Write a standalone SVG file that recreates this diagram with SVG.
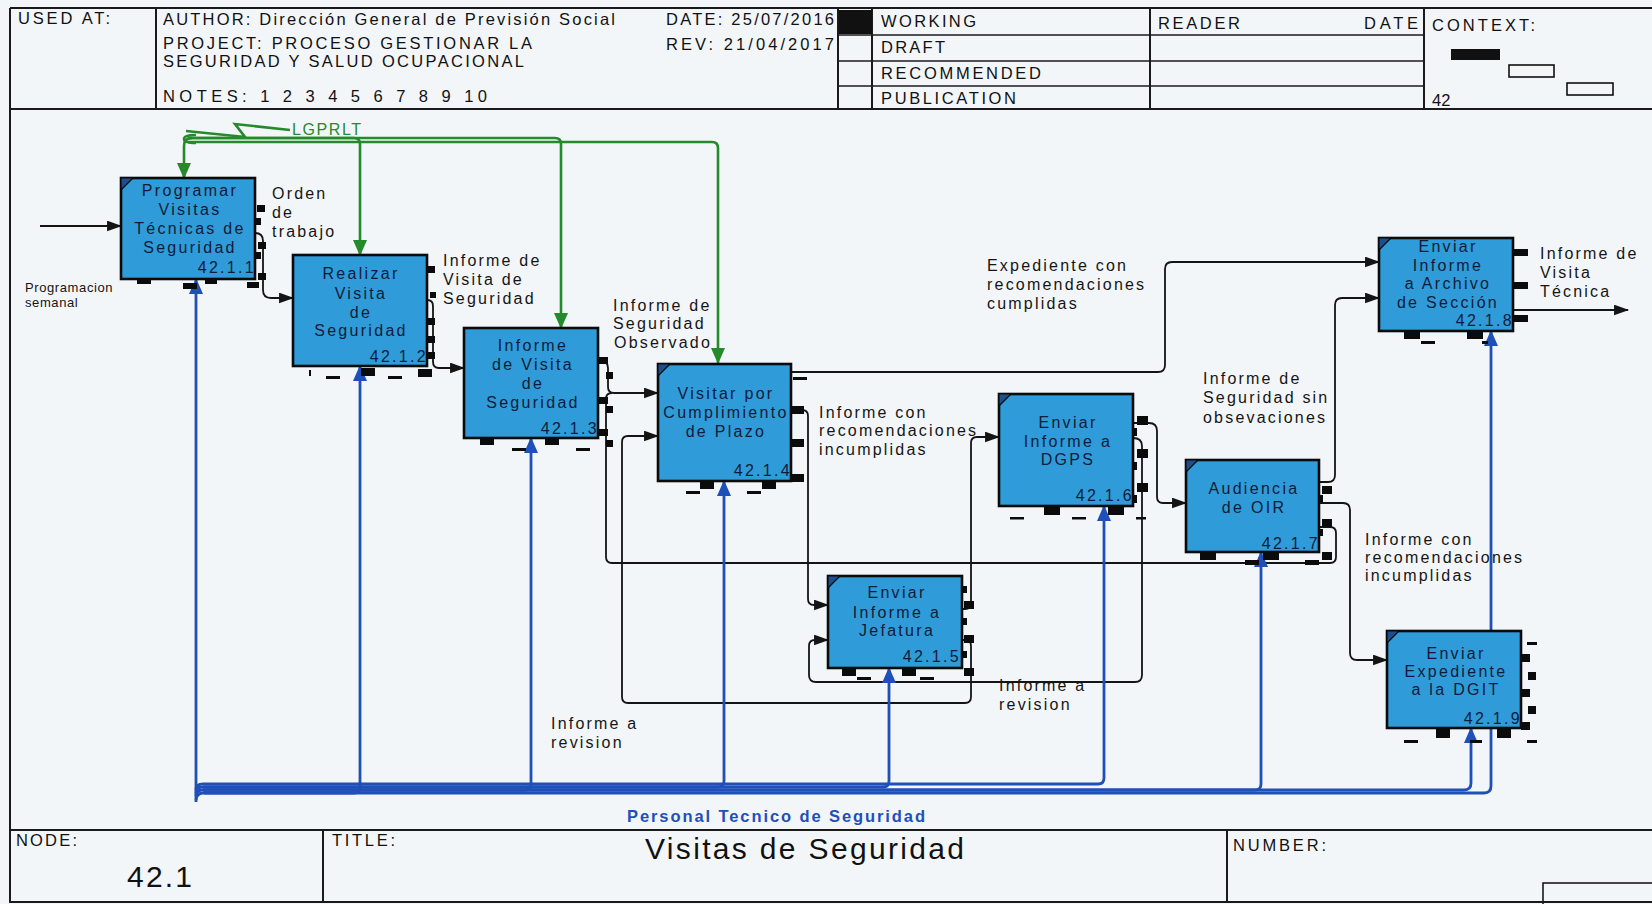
<svg xmlns="http://www.w3.org/2000/svg" width="1652" height="904" viewBox="0 0 1652 904">
  <defs>
    <style>
      .frame { fill: none; stroke: #1a1a1a; stroke-width: 2; }
      .thin { fill: none; stroke: #1a1a1a; stroke-width: 1.4; }
      .hdr { font-family: "Liberation Sans", Arial, sans-serif; font-size: 16.5px; fill: #111; }
      .box { fill: #2f9bd8; stroke: #0b0b0b; stroke-width: 2.6; }
      .corner { fill: #1c4f8c; stroke: #0b0b0b; stroke-width: 1.2; }
      .lbl { font-family: "Liberation Sans", Arial, sans-serif; font-size: 16px; letter-spacing: 2.3px; fill: #0f1b3a; text-anchor: middle; }
      .num { font-family: "Liberation Sans", Arial, sans-serif; font-size: 16px; letter-spacing: 2.3px; fill: #0f1b3a; text-anchor: end; }
      .stub { fill: #0b0b0b; }
      .txt { font-family: "Liberation Sans", Arial, sans-serif; font-size: 16px; letter-spacing: 2.2px; fill: #151515; }
      .small { font-family: "Liberation Sans", Arial, sans-serif; font-size: 13px; letter-spacing: 0.6px; fill: #151515; }
      .arrow { fill: none; stroke: #141414; stroke-width: 1.8; }
      .ctl { fill: none; stroke: #248a2c; stroke-width: 2.6; }
      .mech { fill: none; stroke: #1f4fb8; stroke-width: 2.8; }
    </style>
    <marker id="headK" viewBox="0 0 14 10" refX="13" refY="5" markerWidth="15" markerHeight="11" orient="auto" markerUnits="userSpaceOnUse">
      <path d="M0,0 L14,5 L0,10 Z" fill="#141414"/>
    </marker>
    <marker id="headG" viewBox="0 0 16 14" refX="15" refY="7" markerWidth="16" markerHeight="16" orient="auto" markerUnits="userSpaceOnUse">
      <path d="M0,0 L16,7 L0,14 Z" fill="#248a2c"/>
    </marker>
    <marker id="headB" viewBox="0 0 16 14" refX="15" refY="7" markerWidth="16" markerHeight="16" orient="auto" markerUnits="userSpaceOnUse">
      <path d="M0,0 L16,7 L0,14 Z" fill="#1f4fb8"/>
    </marker>
  </defs>

  <!-- sheet -->
  <rect x="0" y="0" width="1652" height="904" fill="#f3f6f9"/>

  <!-- header block -->
  <g id="header">
    <line class="frame" x1="10" y1="8" x2="1652" y2="8"/>
    <line class="frame" x1="10" y1="109" x2="1652" y2="109"/>
    <line class="frame" x1="10" y1="8" x2="10" y2="903"/>
    <line class="frame" x1="156" y1="8" x2="156" y2="109"/>
    <line class="frame" x1="838" y1="8" x2="838" y2="109"/>
    <line class="frame" x1="872" y1="8" x2="872" y2="109"/>
    <line class="frame" x1="1150" y1="8" x2="1150" y2="109"/>
    <line class="frame" x1="1424" y1="8" x2="1424" y2="109"/>
    <line class="thin" x1="838" y1="35" x2="1424" y2="35"/>
    <line class="thin" x1="838" y1="61" x2="1424" y2="61"/>
    <line class="thin" x1="838" y1="86" x2="1424" y2="86"/>
    <rect x="839" y="10" width="33" height="24" fill="#111"/>
    <text class="hdr" x="18" y="24" textLength="92" lengthAdjust="spacing">USED AT:</text>
    <text class="hdr" x="163" y="25" textLength="452" lengthAdjust="spacing">AUTHOR:  Dirección General de Previsión Social</text>
    <text class="hdr" x="163" y="49" textLength="369" lengthAdjust="spacing">PROJECT:  PROCESO GESTIONAR LA</text>
    <text class="hdr" x="163" y="67" textLength="361" lengthAdjust="spacing">SEGURIDAD Y SALUD OCUPACIONAL</text>
    <text class="hdr" x="163" y="102" textLength="324" lengthAdjust="spacing">NOTES:  1  2  3  4  5  6  7  8  9  10</text>
    <text class="hdr" x="666" y="25" textLength="168" lengthAdjust="spacing">DATE: 25/07/2016</text>
    <text class="hdr" x="666" y="50" textLength="168" lengthAdjust="spacing">REV:   21/04/2017</text>
    <text class="hdr" x="881" y="27" textLength="95" lengthAdjust="spacing">WORKING</text>
    <text class="hdr" x="881" y="53" textLength="64" lengthAdjust="spacing">DRAFT</text>
    <text class="hdr" x="881" y="79" textLength="160" lengthAdjust="spacing">RECOMMENDED</text>
    <text class="hdr" x="881" y="104" textLength="135" lengthAdjust="spacing">PUBLICATION</text>
    <text class="hdr" x="1158" y="29" textLength="82" lengthAdjust="spacing">READER</text>
    <text class="hdr" x="1364" y="29" textLength="54" lengthAdjust="spacing">DATE</text>
    <text class="hdr" x="1432" y="31" textLength="103" lengthAdjust="spacing">CONTEXT:</text>
    <text class="hdr" x="1432" y="106">42</text>
    <rect x="1451" y="49" width="49" height="11" fill="#111"/>
    <rect x="1509" y="65" width="45" height="12" fill="none" stroke="#111" stroke-width="1.6"/>
    <rect x="1567" y="83" width="46" height="12" fill="none" stroke="#111" stroke-width="1.6"/>
  </g>

  <!-- footer block -->
  <g id="footer">
    <line class="frame" x1="10" y1="830" x2="1652" y2="830"/>
    <line class="frame" x1="10" y1="902" x2="1652" y2="902"/>
    <line class="frame" x1="323" y1="830" x2="323" y2="902"/>
    <line class="frame" x1="1227" y1="830" x2="1227" y2="902"/>
    <rect x="1543" y="883" width="112" height="24" fill="none" stroke="#1a1a1a" stroke-width="1.6"/>
    <text class="hdr" x="16" y="846" textLength="61" lengthAdjust="spacing">NODE:</text>
    <text class="hdr" x="332" y="846" textLength="63" lengthAdjust="spacing">TITLE:</text>
    <text class="hdr" x="1233" y="851" textLength="93" lengthAdjust="spacing">NUMBER:</text>
    <text x="127" y="887" font-family="Liberation Sans, Arial, sans-serif" font-size="30" fill="#111" textLength="65" lengthAdjust="spacing">42.1</text>
    <text x="645" y="859" font-family="Liberation Sans, Arial, sans-serif" font-size="30" fill="#111" textLength="319" lengthAdjust="spacing">Visitas de Seguridad</text>
  </g>

  <!-- connectors -->
  <g id="connectors">
    <!-- inputs / outputs -->
    <path class="arrow" marker-end="url(#headK)" d="M40,226 H121"/>
    <path class="arrow" marker-end="url(#headK)" d="M255,233 Q263,233 263,241 V290 Q263,298 271,298 H293"/>
    <path class="arrow" marker-end="url(#headK)" d="M427,300 Q433,300 433,306 V362 Q433,368 439,368 H464"/>
    <path class="arrow" marker-end="url(#headK)" d="M598,360 Q608,360 608,368 V387 Q608,393 614,393 H658"/>
    <path class="arrow" d="M1319,527 H1330 Q1336,527 1336,533 V557 Q1336,563 1330,563 H612 Q606,563 606,557 V399 Q606,393 612,393"/>
    <path class="arrow" marker-end="url(#headK)" d="M962,640 H965 Q971,640 971,646 V697 Q971,703 965,703 H628 Q622,703 622,697 V442 Q622,436 628,436 H658"/>
    <path class="arrow" marker-end="url(#headK)" d="M792,410 H802 Q808,410 808,416 V599 Q808,605 814,605 H828"/>
    <path class="arrow" marker-end="url(#headK)" d="M962,609 H965 Q971,609 971,603 V443 Q971,437 977,437 H999"/>
    <path class="arrow" marker-end="url(#headK)" d="M1133,438 Q1142,438 1142,446 V675 Q1142,682 1135,682 H816 Q809,682 809,675 V646 Q809,640 815,640 H828"/>
    <path class="arrow" marker-end="url(#headK)" d="M1133,423 H1149 Q1157,423 1157,431 V497 Q1157,503 1163,503 H1186"/>
    <path class="arrow" marker-end="url(#headK)" d="M1319,482 H1328 Q1335,482 1335,475 V305 Q1335,298 1342,298 H1379"/>
    <path class="arrow" marker-end="url(#headK)" d="M1319,503 H1343 Q1350,503 1350,510 V653 Q1350,660 1357,660 H1387"/>
    <path class="arrow" marker-end="url(#headK)" d="M792,372 H1158 Q1165,372 1165,365 V269 Q1165,262 1172,262 H1379"/>
    <path class="arrow" marker-end="url(#headK)" d="M1514,310 H1628"/>

    <!-- controls -->
    <path class="ctl" d="M290,130 L235,124 L245,137 L186,131"/>
    <path class="ctl" d="M196,135 Q184,135 184,139 Q184,143 196,143"/>
    <path class="ctl" marker-end="url(#headG)" d="M192,138 Q184,138 184,146 V178"/>
    <path class="ctl" marker-end="url(#headG)" d="M188,138 H354 Q360,138 360,144 V255"/>
    <path class="ctl" marker-end="url(#headG)" d="M188,138 H555 Q561,138 561,144 V328"/>
    <path class="ctl" marker-end="url(#headG)" d="M188,142 H712 Q718,142 718,148 V363"/>

    <!-- mechanisms -->
    <path class="mech" marker-end="url(#headB)" d="M196,802 V279"/>
    <path class="mech" marker-end="url(#headB)" d="M196,800 Q196,793 204,793 H354 Q360,793 360,787 V366"/>
    <path class="mech" marker-end="url(#headB)" d="M196,796 Q196,790 203,790 H525 Q531,790 531,784 V438"/>
    <path class="mech" marker-end="url(#headB)" d="M196,793 Q196,787 203,787 H718 Q724,787 724,781 V481"/>
    <path class="mech" marker-end="url(#headB)" d="M203,787 H883 Q889,787 889,781 V668"/>
    <path class="mech" marker-end="url(#headB)" d="M196,790 Q196,784 203,784 H1098 Q1104,784 1104,778 V506"/>
    <path class="mech" marker-end="url(#headB)" d="M203,790 H1255 Q1261,790 1261,784 V552"/>
    <path class="mech" marker-end="url(#headB)" d="M203,790 H1464 Q1471,790 1471,783 V728"/>
    <path class="mech" marker-end="url(#headB)" d="M204,793 H1484 Q1491,793 1491,786 V331"/>
  </g>

  <!-- arrow labels -->
  <g id="labels">
    <text class="small" x="25" y="292">Programacion</text>
    <text class="small" x="25" y="307">semanal</text>
    <text class="txt" x="272" y="199">Orden</text>
    <text class="txt" x="272" y="218">de</text>
    <text class="txt" x="272" y="237">trabajo</text>
    <text class="txt" x="443" y="266">Informe de</text>
    <text class="txt" x="443" y="285">Visita de</text>
    <text class="txt" x="443" y="304">Seguridad</text>
    <text class="txt" x="613" y="311">Informe de</text>
    <text class="txt" x="613" y="329">Seguridad</text>
    <text class="txt" x="614" y="348">Observado</text>
    <text class="txt" x="819" y="418">Informe con</text>
    <text class="txt" x="819" y="436">recomendaciones</text>
    <text class="txt" x="819" y="455">incumplidas</text>
    <text class="txt" x="987" y="271">Expediente con</text>
    <text class="txt" x="987" y="290">recomendaciones</text>
    <text class="txt" x="987" y="309">cumplidas</text>
    <text class="txt" x="1203" y="384">Informe de</text>
    <text class="txt" x="1203" y="403">Seguridad sin</text>
    <text class="txt" x="1203" y="423">obsevaciones</text>
    <text class="txt" x="1365" y="545">Informe con</text>
    <text class="txt" x="1365" y="563">recomendaciones</text>
    <text class="txt" x="1365" y="581">incumplidas</text>
    <text class="txt" x="1540" y="259">Informe de</text>
    <text class="txt" x="1540" y="278">Visita</text>
    <text class="txt" x="1540" y="297">Técnica</text>
    <text class="txt" x="551" y="729">Informe a</text>
    <text class="txt" x="551" y="748">revision</text>
    <text class="txt" x="999" y="691">Informe a</text>
    <text class="txt" x="999" y="710">revision</text>
    <text x="292" y="135" font-family="Liberation Sans, Arial, sans-serif" font-size="16" letter-spacing="1.6" fill="#248a2c">LGPRLT</text>
    <text x="627" y="822" font-family="Liberation Sans, Arial, sans-serif" font-size="16.5" font-weight="bold" fill="#1f4fb8" textLength="298" lengthAdjust="spacing">Personal Tecnico de Seguridad</text>
  </g>

  <!-- activity boxes -->
  <g id="n42-1-1">
    <rect class="box" x="121" y="178" width="134" height="101"/>
    <path class="corner" d="M121,178 H133 L121,190 Z"/>
    <text class="lbl" x="190" y="196">Programar</text>
    <text class="lbl" x="190" y="215">Visitas</text>
    <text class="lbl" x="190" y="234">Técnicas de</text>
    <text class="lbl" x="190" y="253">Seguridad</text>
    <text class="num" x="256" y="273">42.1.1</text>
    <rect class="stub" x="257" y="205" width="8" height="7"/>
    <rect class="stub" x="256" y="218" width="5" height="7"/>
    <rect class="stub" x="258" y="242" width="8" height="7"/>
    <rect class="stub" x="256" y="252" width="5" height="7"/>
    <rect class="stub" x="258" y="273" width="8" height="7"/>
    <rect class="stub" x="247" y="282" width="12" height="6"/>
    <rect class="stub" x="137" y="279" width="14" height="5"/>
    <rect class="stub" x="183" y="283" width="14" height="6"/>
    <rect class="stub" x="205" y="279" width="12" height="5"/>
  </g>

  <g id="n42-1-2">
    <rect class="box" x="293" y="255" width="134" height="111"/>
    <text class="lbl" x="361" y="279">Realizar</text>
    <text class="lbl" x="361" y="299">Visita</text>
    <text class="lbl" x="361" y="318">de</text>
    <text class="lbl" x="361" y="336">Seguridad</text>
    <text class="num" x="428" y="362">42.1.2</text>
    <rect class="stub" x="428" y="266" width="7" height="7"/>
    <rect class="stub" x="430" y="292" width="6" height="6"/>
    <rect class="stub" x="428" y="318" width="7" height="7"/>
    <rect class="stub" x="428" y="336" width="7" height="7"/>
    <rect class="stub" x="428" y="352" width="7" height="7"/>
    <rect class="stub" x="309" y="370" width="2" height="6"/>
    <rect class="stub" x="326" y="376" width="14" height="3"/>
    <rect class="stub" x="361" y="368" width="14" height="8"/>
    <rect class="stub" x="388" y="376" width="14" height="3"/>
    <rect class="stub" x="418" y="369" width="14" height="8"/>
  </g>

  <g id="n42-1-3">
    <rect class="box" x="464" y="328" width="134" height="110"/>
    <text class="lbl" x="533" y="351">Informe</text>
    <text class="lbl" x="533" y="370">de Visita</text>
    <text class="lbl" x="533" y="389">de</text>
    <text class="lbl" x="533" y="408">Seguridad</text>
    <text class="num" x="599" y="434">42.1.3</text>
    <rect class="stub" x="599" y="357" width="9" height="7"/>
    <rect class="stub" x="606" y="372" width="7" height="7"/>
    <rect class="stub" x="599" y="397" width="9" height="7"/>
    <rect class="stub" x="606" y="406" width="7" height="7"/>
    <rect class="stub" x="599" y="429" width="9" height="7"/>
    <rect class="stub" x="606" y="440" width="7" height="7"/>
    <rect class="stub" x="480" y="439" width="14" height="6"/>
    <rect class="stub" x="545" y="439" width="14" height="6"/>
    <rect class="stub" x="512" y="448" width="14" height="3"/>
    <rect class="stub" x="576" y="448" width="14" height="3"/>
  </g>

  <g id="n42-1-4">
    <rect class="box" x="658" y="364" width="133" height="117"/>
    <path class="corner" d="M658,364 H670 L658,376 Z"/>
    <text class="lbl" x="726" y="399">Visitar por</text>
    <text class="lbl" x="726" y="418">Cumplimiento</text>
    <text class="lbl" x="726" y="437">de Plazo</text>
    <text class="num" x="792" y="476">42.1.4</text>
    <rect class="stub" x="793" y="377" width="14" height="3"/>
    <rect class="stub" x="792" y="406" width="12" height="8"/>
    <rect class="stub" x="792" y="439" width="12" height="8"/>
    <rect class="stub" x="792" y="474" width="12" height="8"/>
    <rect class="stub" x="700" y="482" width="14" height="7"/>
    <rect class="stub" x="762" y="482" width="14" height="7"/>
    <rect class="stub" x="686" y="491" width="14" height="3"/>
    <rect class="stub" x="747" y="491" width="14" height="3"/>
  </g>

  <g id="n42-1-5">
    <rect class="box" x="828" y="576" width="134" height="92"/>
    <path class="corner" d="M828,576 H840 L828,588 Z"/>
    <text class="lbl" x="897" y="598">Enviar</text>
    <text class="lbl" x="897" y="618">Informe a</text>
    <text class="lbl" x="897" y="636">Jefatura</text>
    <text class="num" x="961" y="662">42.1.5</text>
    <rect class="stub" x="962" y="586" width="5" height="7"/>
    <rect class="stub" x="964" y="601" width="10" height="8"/>
    <rect class="stub" x="962" y="618" width="5" height="7"/>
    <rect class="stub" x="964" y="635" width="10" height="8"/>
    <rect class="stub" x="962" y="651" width="5" height="7"/>
    <rect class="stub" x="964" y="668" width="10" height="8"/>
    <rect class="stub" x="842" y="669" width="14" height="7"/>
    <rect class="stub" x="857" y="677" width="14" height="3"/>
    <rect class="stub" x="902" y="669" width="14" height="7"/>
    <rect class="stub" x="920" y="677" width="14" height="3"/>
  </g>

  <g id="n42-1-6">
    <rect class="box" x="999" y="394" width="134" height="112"/>
    <path class="corner" d="M999,394 H1011 L999,406 Z"/>
    <text class="lbl" x="1068" y="428">Enviar</text>
    <text class="lbl" x="1068" y="447">Informe a</text>
    <text class="lbl" x="1068" y="465">DGPS</text>
    <text class="num" x="1134" y="501">42.1.6</text>
    <rect class="stub" x="1137" y="416" width="11" height="9"/>
    <rect class="stub" x="1137" y="449" width="11" height="9"/>
    <rect class="stub" x="1137" y="483" width="11" height="9"/>
    <rect class="stub" x="1133" y="428" width="4" height="8"/>
    <rect class="stub" x="1133" y="462" width="4" height="8"/>
    <rect class="stub" x="1133" y="495" width="4" height="8"/>
    <rect class="stub" x="1044" y="507" width="16" height="8"/>
    <rect class="stub" x="1108" y="507" width="16" height="8"/>
    <rect class="stub" x="1010" y="517" width="14" height="2.5"/>
    <rect class="stub" x="1072" y="517" width="14" height="2.5"/>
    <rect class="stub" x="1136" y="517" width="10" height="2.5"/>
  </g>

  <g id="n42-1-7">
    <rect class="box" x="1186" y="460" width="133" height="92"/>
    <path class="corner" d="M1186,460 H1198 L1186,472 Z"/>
    <text class="lbl" x="1254" y="494">Audiencia</text>
    <text class="lbl" x="1254" y="513">de OIR</text>
    <text class="num" x="1320" y="549">42.1.7</text>
    <rect class="stub" x="1322" y="486" width="10" height="8"/>
    <rect class="stub" x="1322" y="519" width="10" height="8"/>
    <rect class="stub" x="1322" y="552" width="10" height="8"/>
    <rect class="stub" x="1319" y="495" width="4" height="7"/>
    <rect class="stub" x="1319" y="529" width="4" height="7"/>
    <rect class="stub" x="1200" y="553" width="16" height="7"/>
    <rect class="stub" x="1263" y="553" width="16" height="7"/>
    <rect class="stub" x="1245" y="560" width="14" height="5"/>
    <rect class="stub" x="1305" y="560" width="14" height="5"/>
  </g>

  <g id="n42-1-8">
    <rect class="box" x="1379" y="238" width="134" height="93"/>
    <path class="corner" d="M1379,238 H1391 L1379,250 Z"/>
    <text class="lbl" x="1448" y="252">Enviar</text>
    <text class="lbl" x="1448" y="271">Informe</text>
    <text class="lbl" x="1448" y="289">a Archivo</text>
    <text class="lbl" x="1448" y="308">de Sección</text>
    <text class="num" x="1514" y="326">42.1.8</text>
    <rect class="stub" x="1514" y="249" width="14" height="7"/>
    <rect class="stub" x="1514" y="282" width="14" height="7"/>
    <rect class="stub" x="1514" y="315" width="14" height="7"/>
    <rect class="stub" x="1404" y="332" width="16" height="7"/>
    <rect class="stub" x="1421" y="341" width="14" height="3"/>
    <rect class="stub" x="1467" y="332" width="16" height="7"/>
    <rect class="stub" x="1482" y="341" width="6" height="3"/>
  </g>

  <g id="n42-1-9">
    <rect class="box" x="1387" y="631" width="134" height="97"/>
    <path class="corner" d="M1387,631 H1399 L1387,643 Z"/>
    <text class="lbl" x="1456" y="659">Enviar</text>
    <text class="lbl" x="1456" y="677">Expediente</text>
    <text class="lbl" x="1456" y="695">a la DGIT</text>
    <text class="num" x="1522" y="724">42.1.9</text>
    <rect class="stub" x="1527" y="642" width="10" height="3"/>
    <rect class="stub" x="1521" y="654" width="9" height="8"/>
    <rect class="stub" x="1528" y="672" width="8" height="8"/>
    <rect class="stub" x="1521" y="689" width="9" height="8"/>
    <rect class="stub" x="1528" y="706" width="8" height="8"/>
    <rect class="stub" x="1521" y="722" width="9" height="8"/>
    <rect class="stub" x="1527" y="740" width="10" height="3"/>
    <rect class="stub" x="1404" y="740" width="14" height="3"/>
    <rect class="stub" x="1436" y="729" width="14" height="9"/>
    <rect class="stub" x="1470" y="740" width="12" height="3"/>
    <rect class="stub" x="1497" y="729" width="14" height="9"/>
  </g>
</svg>
